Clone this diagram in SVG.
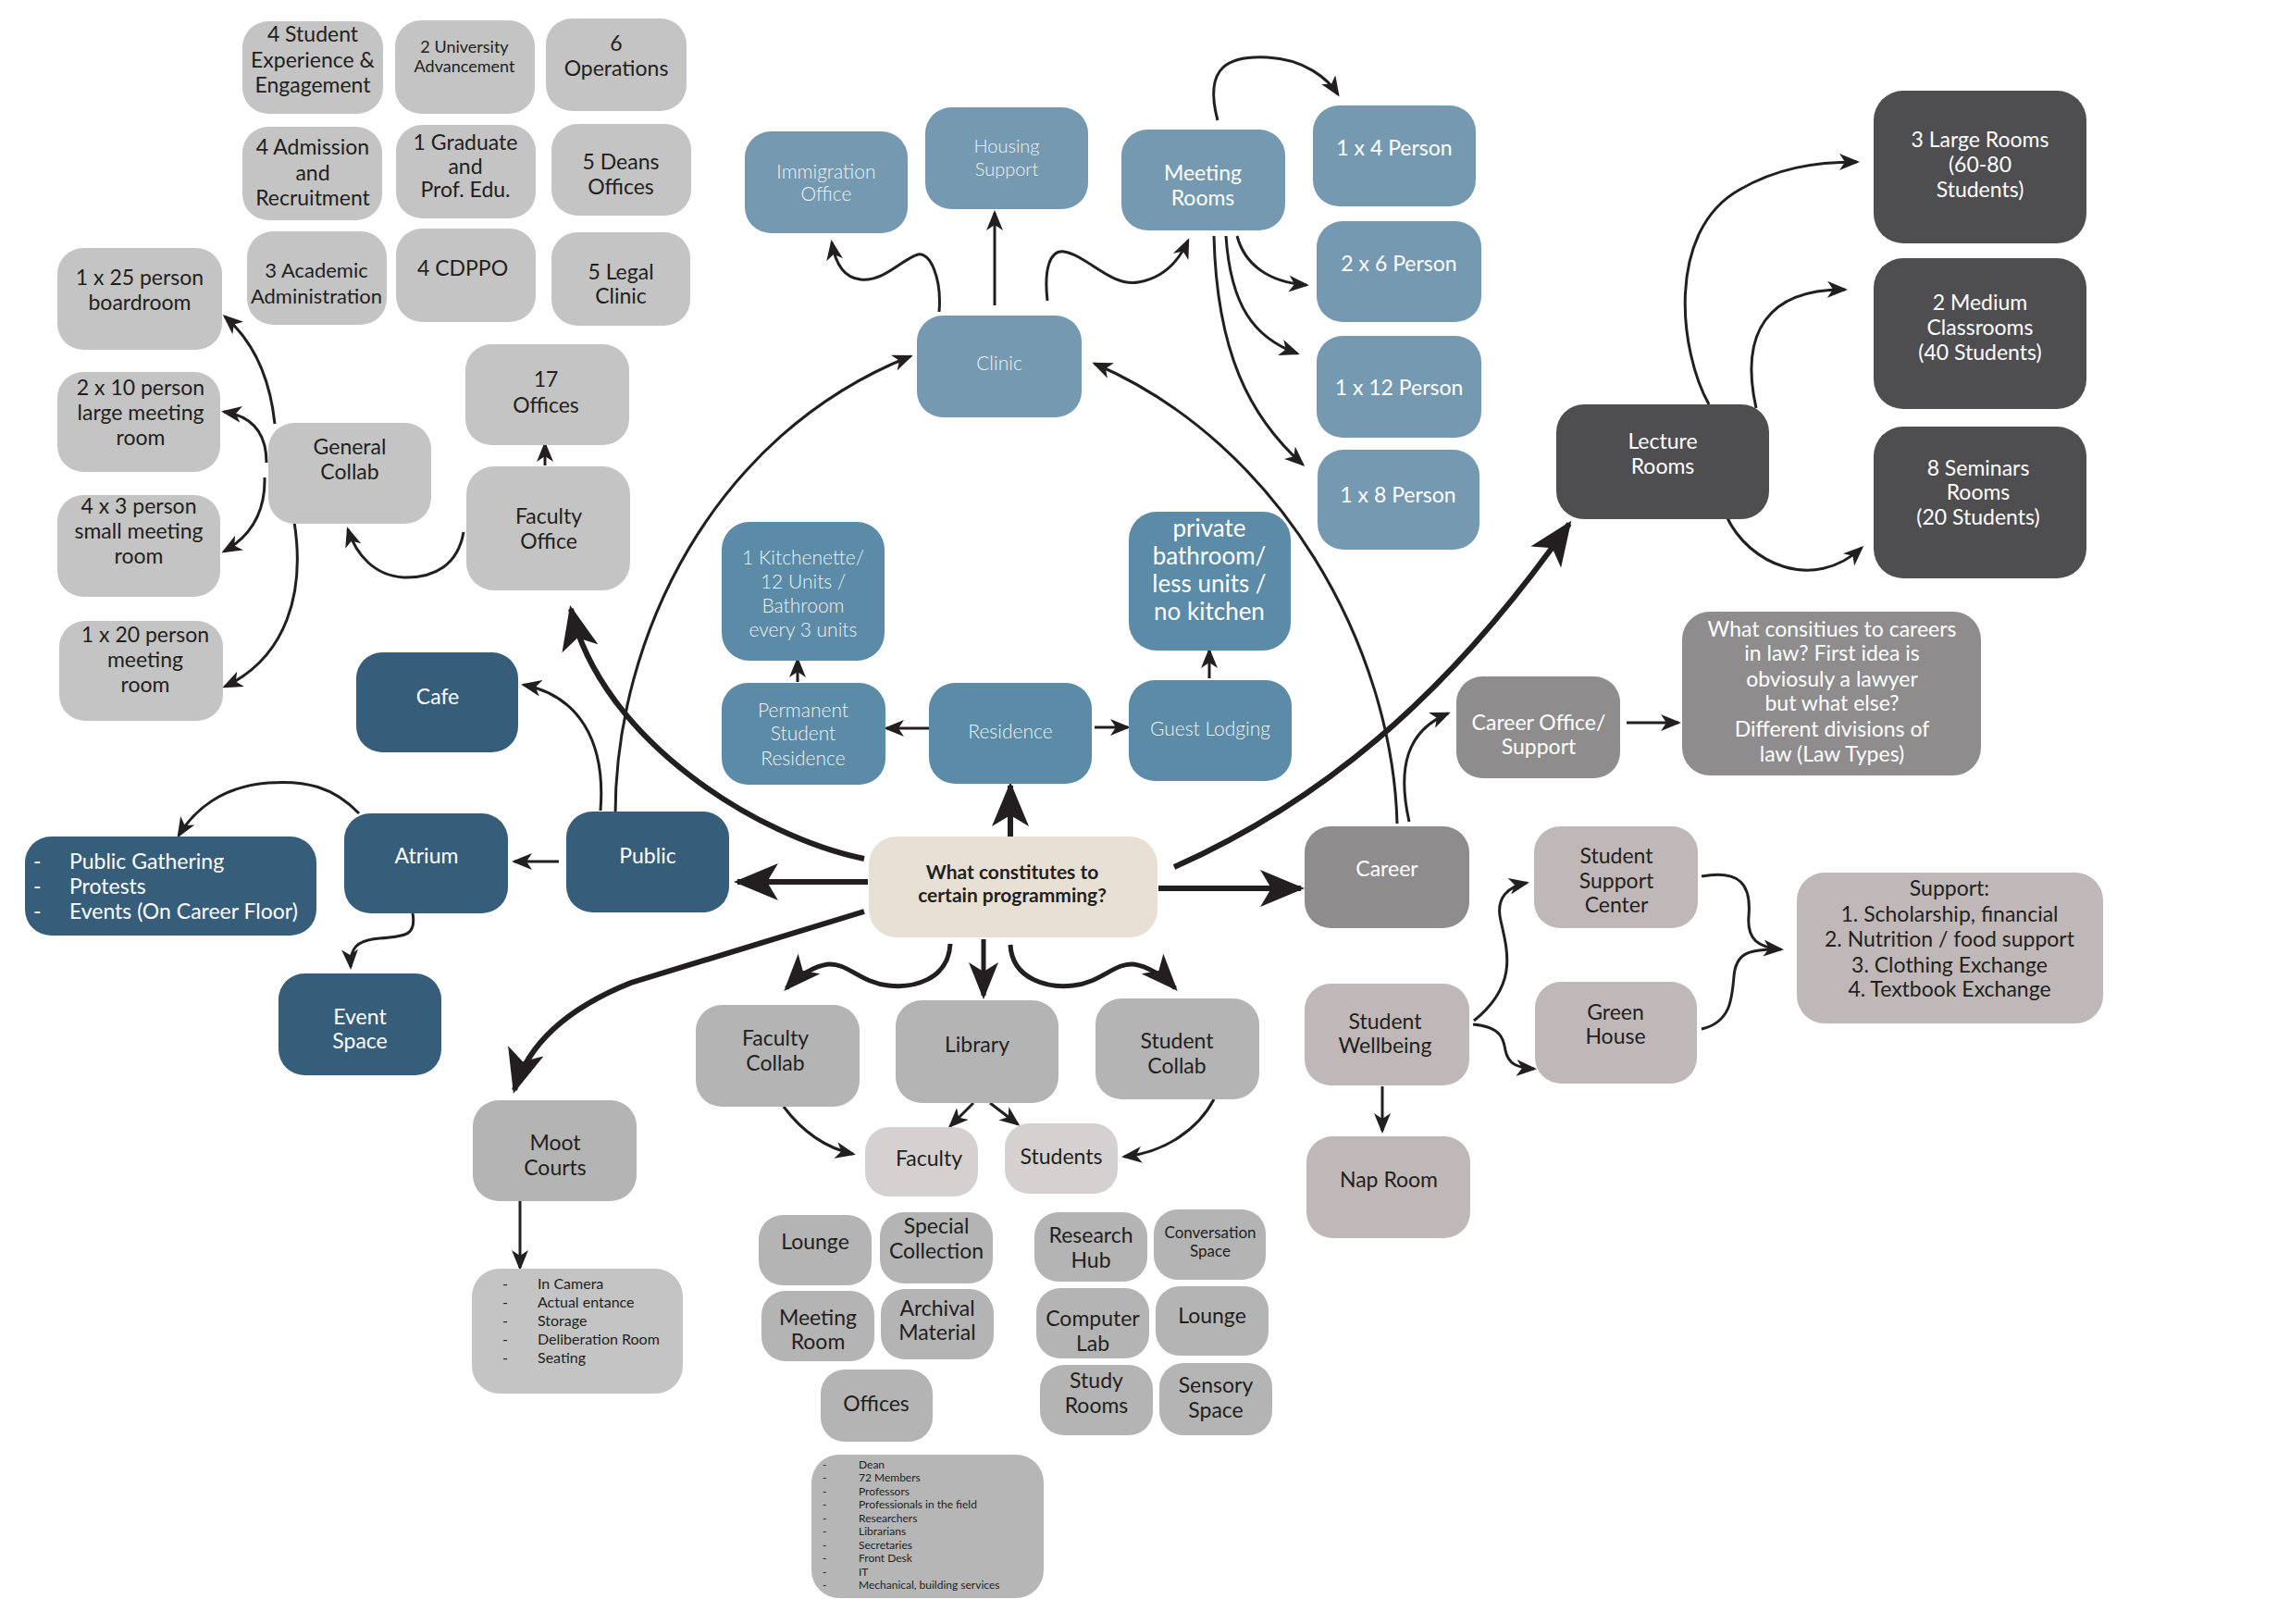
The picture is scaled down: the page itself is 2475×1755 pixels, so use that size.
<svg xmlns="http://www.w3.org/2000/svg" width="2475" height="1755" viewBox="0 0 2475 1755">
<style>
text{font-family:Lato,"Liberation Sans",sans-serif;text-anchor:middle}
.g1{fill:#c4c4c4}.db{fill:#365e7a}.mb{fill:#7599b0}.rb{fill:#5b8ba6}.bg{fill:#e8e0d5}
.dk{fill:#4e4d50}.cr{fill:#8f8c8e}.wb{fill:#c0b8b8}.lg{fill:#b4b4b4}.lt{fill:#d6d1d1}.sl{fill:#b6b6b6}
.t{fill:#231f20;font-size:23px}
.w{fill:#ffffff;font-size:23px}
.wl{fill:#eef3f6;font-size:21px;font-weight:300}
.st{text-anchor:start}
.c{fill:none;stroke:#231f20;stroke-width:3}
.ck{fill:none;stroke:#231f20;stroke-width:6}
.cm{fill:none;stroke:#231f20;stroke-width:5}
.as{marker-end:url(#a)}.am{marker-end:url(#m)}.al{marker-end:url(#L)}
</style>
<defs>
<marker id="a" markerUnits="userSpaceOnUse" viewBox="0 0 22 18" markerWidth="22" markerHeight="18" refX="19" refY="9" orient="auto"><path d="M0,0 L22,9 L0,18 L6,9 z" fill="#231f20"/></marker>
<marker id="m" markerUnits="userSpaceOnUse" viewBox="0 0 40 32" markerWidth="40" markerHeight="32" refX="36" refY="16" orient="auto"><path d="M0,0 L40,16 L0,32 L10,16 z" fill="#231f20"/></marker>
<marker id="L" markerUnits="userSpaceOnUse" viewBox="0 0 48 40" markerWidth="48" markerHeight="40" refX="44" refY="20" orient="auto"><path d="M0,0 L48,20 L0,40 L12,20 z" fill="#231f20"/></marker>
</defs>
<rect width="2475" height="1755" fill="#ffffff"/>

<g id="connectors">
<path class="ck al" d="M938,953 L797,953"/>
<path class="ck al" d="M1252,960 L1406,960"/>
<path class="ck al" d="M1092,904 L1092,849"/>
<path class="cm am" d="M1063,1015 L1063,1076"/>
<path class="cm am" d="M1027,1020 C1025,1060 985,1068 960,1065 C930,1062 915,1040 895,1042 C880,1044 862,1055 850,1068"/>
<path class="cm am" d="M1092,1021 C1094,1060 1135,1068 1160,1065 C1190,1062 1205,1040 1225,1042 C1240,1044 1258,1055 1270,1068"/>
<path class="ck al" d="M934,928 C820,905 650,800 617,658"/>
<path class="c as" d="M665,880 C665,690 770,470 984,385"/>
<path class="c as" d="M649,876 C655,800 625,752 566,740"/>
<path class="c as" d="M604,931 L556,931"/>
<path class="c as" d="M388,879 C360,850 330,843 290,846 C240,850 210,875 193,903"/>
<path class="c as" d="M446,987 C450,1010 440,1012 410,1014 C385,1016 378,1025 379,1045"/>
<path class="ck al" d="M934,985 L682,1062 C612,1090 570,1130 556,1178"/>
<path class="c as" d="M562,1298 L562,1370"/>
<path class="c as" d="M501,575 C495,610 470,625 436,624 C405,622 385,600 376,572"/>
<path class="c as" d="M589,503 L589,480"/>
<path class="c as" d="M297,458 C292,410 275,370 243,342"/>
<path class="c as" d="M288,500 C288,470 275,450 242,445"/>
<path class="c as" d="M286,516 C287,555 270,580 242,596"/>
<path class="c as" d="M318,564 C330,640 310,710 243,742"/>
<path class="c as" d="M1015,337 C1018,300 1005,272 992,275 C975,280 955,305 930,302 C910,300 902,280 899,262"/>
<path class="c as" d="M1075,330 L1075,230"/>
<path class="c as" d="M1132,325 C1128,290 1135,270 1150,272 C1175,276 1200,310 1230,305 C1260,300 1275,280 1284,260"/>
<path class="c as" d="M1316,130 C1300,70 1330,60 1370,62 C1410,64 1435,85 1446,102"/>
<path class="c as" d="M1337,255 C1345,285 1370,305 1412,308"/>
<path class="c as" d="M1325,255 C1330,330 1355,365 1402,382"/>
<path class="c as" d="M1312,255 C1315,380 1350,450 1408,502"/>
<path class="c as" d="M862,737 L862,713"/>
<path class="c as" d="M1004,787 L958,787"/>
<path class="c as" d="M1183,786 L1219,786"/>
<path class="c as" d="M1307,733 L1307,703"/>
<path class="c as" d="M1510,890 C1505,700 1385,480 1183,393"/>
<path class="ck al" d="M1269,937 C1420,870 1560,760 1696,566"/>
<path class="c as" d="M1847,437 C1815,380 1800,250 1880,205 C1920,182 1960,175 2007,175"/>
<path class="c as" d="M1898,441 C1880,360 1910,312 1994,313"/>
<path class="c as" d="M1866,558 C1890,610 1960,640 2012,592"/>
<path class="c as" d="M1523,888 C1510,830 1520,790 1565,771"/>
<path class="c as" d="M1758,781 L1814,781"/>
<path class="c as" d="M1593,1103 C1640,1065 1630,1030 1622,995 C1616,970 1630,958 1650,954"/>
<path class="c as" d="M1592,1107 C1625,1110 1625,1125 1627,1135 C1630,1150 1640,1154 1658,1155"/>
<path class="c as" d="M1494,1174 L1494,1222"/>
<path class="c as" d="M1839,947 C1880,940 1893,955 1890,990 C1888,1015 1900,1024 1925,1026"/>
<path class="c" d="M1839,1112 C1870,1105 1872,1080 1874,1055 C1876,1030 1890,1026 1920,1026"/>
<path class="c as" d="M847,1196 C865,1220 890,1240 922,1247"/>
<path class="c as" d="M1052,1192 L1027,1217"/>
<path class="c as" d="M1070,1192 L1100,1215"/>
<path class="c as" d="M1312,1188 C1295,1220 1260,1245 1215,1250"/>
</g>

<g id="n-student-exp"><rect class="g1" x="262" y="23" width="152" height="100" rx="28"/><text class="t" x="338"><tspan x="338" y="45">4 Student</tspan><tspan x="338" y="73">Experience &amp;</tspan><tspan x="338" y="100">Engagement</tspan></text></g>
<g id="n-univ-adv"><rect class="g1" x="427" y="22" width="151" height="101" rx="28"/><text class="t" style="font-size:18px"><tspan x="502" y="57">2 University</tspan><tspan x="502" y="78">Advancement</tspan></text></g>
<g id="n-operations"><rect class="g1" x="590" y="20" width="152" height="100" rx="28"/><text class="t"><tspan x="666" y="55">6</tspan><tspan x="666" y="82">Operations</tspan></text></g>
<g id="n-admission"><rect class="g1" x="262" y="137" width="151" height="101" rx="28"/><text class="t"><tspan x="338" y="167">4 Admission</tspan><tspan x="338" y="195">and</tspan><tspan x="338" y="222">Recruitment</tspan></text></g>
<g id="n-graduate"><rect class="g1" x="428" y="135" width="151" height="101" rx="28"/><text class="t"><tspan x="503" y="162">1 Graduate</tspan><tspan x="503" y="188">and</tspan><tspan x="503" y="213">Prof. Edu.</tspan></text></g>
<g id="n-deans"><rect class="g1" x="596" y="134" width="151" height="99" rx="28"/><text class="t"><tspan x="671" y="183">5 Deans</tspan><tspan x="671" y="210">Offices</tspan></text></g>
<g id="n-academic"><rect class="g1" x="267" y="250" width="151" height="101" rx="28"/><text class="t" style="font-size:22px"><tspan x="342" y="300">3 Academic</tspan><tspan x="342" y="328">Administration</tspan></text></g>
<g id="n-cdppo"><rect class="g1" x="428" y="247" width="151" height="101" rx="28"/><text class="t" x="500" y="298">4 CDPPO</text></g>
<g id="n-legal"><rect class="g1" x="596" y="251" width="150" height="101" rx="28"/><text class="t"><tspan x="671" y="302">5 Legal</tspan><tspan x="671" y="328">Clinic</tspan></text></g>

<g id="n-boardroom"><rect class="g1" x="62" y="268" width="178" height="110" rx="28"/><text class="t"><tspan x="151" y="308">1 x 25 person</tspan><tspan x="151" y="335">boardroom</tspan></text></g>
<g id="n-large-meeting"><rect class="g1" x="62" y="402" width="176" height="108" rx="28"/><text class="t"><tspan x="152" y="427">2 x 10 person</tspan><tspan x="152" y="454">large meeting</tspan><tspan x="152" y="481">room</tspan></text></g>
<g id="n-small-meeting"><rect class="g1" x="62" y="535" width="176" height="110" rx="28"/><text class="t"><tspan x="150" y="555">4 x 3 person</tspan><tspan x="150" y="582">small meeting</tspan><tspan x="150" y="609">room</tspan></text></g>
<g id="n-20-meeting"><rect class="g1" x="64" y="671" width="177" height="108" rx="28"/><text class="t"><tspan x="157" y="694">1 x 20 person</tspan><tspan x="157" y="721">meeting</tspan><tspan x="157" y="748">room</tspan></text></g>
<g id="n-general-collab"><rect class="g1" x="290" y="457" width="176" height="109" rx="28"/><text class="t"><tspan x="378" y="491">General</tspan><tspan x="378" y="518">Collab</tspan></text></g>
<g id="n-17-offices"><rect class="g1" x="503" y="372" width="177" height="109" rx="28"/><text class="t"><tspan x="590" y="418">17</tspan><tspan x="590" y="446">Offices</tspan></text></g>
<g id="n-faculty-office"><rect class="g1" x="504" y="504" width="177" height="134" rx="30"/><text class="t"><tspan x="593" y="566">Faculty</tspan><tspan x="593" y="593">Office</tspan></text></g>

<g id="n-cafe"><rect class="db" x="385" y="705" width="175" height="108" rx="28"/><text class="w" x="473" y="761">Cafe</text></g>
<g id="n-public"><rect class="db" x="612" y="877" width="176" height="109" rx="28"/><text class="w" x="700" y="933">Public</text></g>
<g id="n-atrium"><rect class="db" x="372" y="879" width="177" height="108" rx="28"/><text class="w" x="461" y="933">Atrium</text></g>
<g id="n-public-gathering"><rect class="db" x="27" y="904" width="315" height="107" rx="28"/><text class="w st"><tspan x="36" y="939">-</tspan><tspan x="75" y="939">Public Gathering</tspan><tspan x="36" y="966">-</tspan><tspan x="75" y="966">Protests</tspan><tspan x="36" y="993">-</tspan><tspan x="75" y="993">Events (On Career Floor)</tspan></text></g>
<g id="n-event-space"><rect class="db" x="301" y="1052" width="176" height="110" rx="28"/><text class="w"><tspan x="389" y="1107">Event</tspan><tspan x="389" y="1133">Space</tspan></text></g>

<g id="n-immigration"><rect class="mb" x="805" y="142" width="176" height="110" rx="28"/><text class="wl"><tspan x="893" y="193">Immigration</tspan><tspan x="893" y="217">Office</tspan></text></g>
<g id="n-housing"><rect class="mb" x="1000" y="116" width="176" height="110" rx="28"/><text class="wl" style="font-size:20px"><tspan x="1088" y="165">Housing</tspan><tspan x="1088" y="190">Support</tspan></text></g>
<g id="n-meeting-rooms"><rect class="mb" x="1212" y="140" width="177" height="109" rx="28"/><text class="w"><tspan x="1300" y="195">Meeting</tspan><tspan x="1300" y="222">Rooms</tspan></text></g>
<g id="n-clinic"><rect class="mb" x="991" y="341" width="178" height="110" rx="28"/><text class="wl" x="1080" y="400">Clinic</text></g>
<g id="n-1x4"><rect class="mb" x="1419" y="114" width="176" height="109" rx="28"/><text class="w" x="1507" y="168">1 x 4 Person</text></g>
<g id="n-2x6"><rect class="mb" x="1423" y="239" width="178" height="109" rx="28"/><text class="w" x="1512" y="293">2 x 6 Person</text></g>
<g id="n-1x12"><rect class="mb" x="1423" y="363" width="178" height="110" rx="28"/><text class="w" x="1512" y="427">1 x 12 Person</text></g>
<g id="n-1x8"><rect class="mb" x="1424" y="486" width="175" height="108" rx="28"/><text class="w" x="1511" y="543">1 x 8 Person</text></g>

<g id="n-kitchenette"><rect class="rb" x="780" y="564" width="176" height="150" rx="30"/><text class="wl"><tspan x="868" y="610">1 Kitchenette/</tspan><tspan x="868" y="636">12  Units /</tspan><tspan x="868" y="662">Bathroom</tspan><tspan x="868" y="688">every 3 units</tspan></text></g>
<g id="n-permanent"><rect class="rb" x="780" y="738" width="177" height="110" rx="28"/><text class="wl"><tspan x="868" y="775">Permanent</tspan><tspan x="868" y="800">Student</tspan><tspan x="868" y="827">Residence</tspan></text></g>
<g id="n-residence"><rect class="rb" x="1004" y="738" width="176" height="109" rx="28"/><text class="wl" x="1092" y="798">Residence</text></g>
<g id="n-guest"><rect class="rb" x="1220" y="735" width="176" height="109" rx="28"/><text class="wl" x="1308" y="795">Guest Lodging</text></g>
<g id="n-private"><rect class="rb" x="1220" y="553" width="175" height="150" rx="30"/><text class="w" style="font-size:26px"><tspan x="1307" y="580">private</tspan><tspan x="1307" y="610">bathroom/</tspan><tspan x="1307" y="640">less units /</tspan><tspan x="1307" y="670">no kitchen</tspan></text></g>

<g id="n-center"><rect class="bg" x="939" y="904" width="312" height="109" rx="30"/><text class="t" style="font-size:21px;font-weight:bold"><tspan x="1094" y="950">What constitutes to</tspan><tspan x="1094" y="975">certain programming?</tspan></text></g>

<g id="n-lecture"><rect class="dk" x="1682" y="437" width="230" height="124" rx="30"/><text class="w"><tspan x="1797" y="485">Lecture</tspan><tspan x="1797" y="512">Rooms</tspan></text></g>
<g id="n-large-rooms"><rect class="dk" x="2025" y="98" width="230" height="165" rx="32"/><text class="w"><tspan x="2140" y="159">3 Large Rooms</tspan><tspan x="2140" y="186">(60-80</tspan><tspan x="2140" y="213">Students)</tspan></text></g>
<g id="n-medium"><rect class="dk" x="2025" y="279" width="230" height="163" rx="32"/><text class="w"><tspan x="2140" y="335">2 Medium</tspan><tspan x="2140" y="362">Classrooms</tspan><tspan x="2140" y="389">(40 Students)</tspan></text></g>
<g id="n-seminars"><rect class="dk" x="2025" y="461" width="230" height="164" rx="32"/><text class="w"><tspan x="2138" y="514">8 Seminars</tspan><tspan x="2138" y="540">Rooms</tspan><tspan x="2138" y="567">(20 Students)</tspan></text></g>

<g id="n-career"><rect class="cr" x="1410" y="893" width="178" height="110" rx="28"/><text class="w" x="1499" y="947">Career</text></g>
<g id="n-career-office"><rect class="cr" x="1574" y="731" width="177" height="110" rx="28"/><text class="w"><tspan x="1663" y="789">Career Office/</tspan><tspan x="1663" y="815">Support</tspan></text></g>
<g id="n-careers-law"><rect class="cr" x="1818" y="661" width="323" height="177" rx="30"/><text class="w"><tspan x="1980" y="688">What consitiues to careers</tspan><tspan x="1980" y="714">in law? First idea is</tspan><tspan x="1980" y="742">obviosuly a lawyer</tspan><tspan x="1980" y="768">but what else?</tspan><tspan x="1980" y="796">Different divisions of</tspan><tspan x="1980" y="823">law (Law Types)</tspan></text></g>

<g id="n-support-center"><rect class="wb" x="1658" y="893" width="177" height="110" rx="28"/><text class="t"><tspan x="1747" y="933">Student</tspan><tspan x="1747" y="960">Support</tspan><tspan x="1747" y="986">Center</tspan></text></g>
<g id="n-green-house"><rect class="wb" x="1659" y="1061" width="175" height="110" rx="28"/><text class="t"><tspan x="1746" y="1102">Green</tspan><tspan x="1746" y="1128">House</tspan></text></g>
<g id="n-wellbeing"><rect class="wb" x="1410" y="1063" width="178" height="110" rx="28"/><text class="t"><tspan x="1497" y="1112">Student</tspan><tspan x="1497" y="1138">Wellbeing</tspan></text></g>
<g id="n-nap"><rect class="wb" x="1412" y="1228" width="177" height="110" rx="28"/><text class="t" x="1501" y="1283">Nap Room</text></g>
<g id="n-support"><rect class="wb" x="1942" y="943" width="331" height="163" rx="30"/><text class="t"><tspan x="2107" y="968">Support:</tspan><tspan x="2107" y="996">1.  Scholarship, financial</tspan><tspan x="2107" y="1023">2.  Nutrition / food support</tspan><tspan x="2107" y="1051">3.  Clothing Exchange</tspan><tspan x="2107" y="1077">4.  Textbook Exchange</tspan></text></g>

<g id="n-faculty-collab"><rect class="lg" x="752" y="1086" width="177" height="110" rx="28"/><text class="t"><tspan x="838" y="1130">Faculty</tspan><tspan x="838" y="1157">Collab</tspan></text></g>
<g id="n-library"><rect class="lg" x="968" y="1081" width="176" height="111" rx="28"/><text class="t" x="1056" y="1137">Library</text></g>
<g id="n-student-collab"><rect class="lg" x="1184" y="1079" width="177" height="109" rx="28"/><text class="t"><tspan x="1272" y="1133">Student</tspan><tspan x="1272" y="1160">Collab</tspan></text></g>
<g id="n-faculty"><rect class="lt" x="935" y="1218" width="122" height="75" rx="26"/><text class="t" x="1004" y="1260">Faculty</text></g>
<g id="n-students"><rect class="lt" x="1086" y="1214" width="122" height="76" rx="26"/><text class="t" x="1147" y="1258">Students</text></g>
<g id="n-moot"><rect class="lg" x="511" y="1189" width="177" height="109" rx="28"/><text class="t"><tspan x="600" y="1243">Moot</tspan><tspan x="600" y="1270">Courts</tspan></text></g>
<g id="n-moot-list"><rect class="g1" x="510" y="1371" width="228" height="135" rx="30"/><text class="t st" style="font-size:16px"><tspan x="543" y="1393">-</tspan><tspan x="581" y="1393">In Camera</tspan><tspan x="543" y="1413">-</tspan><tspan x="581" y="1413">Actual entance</tspan><tspan x="543" y="1433">-</tspan><tspan x="581" y="1433">Storage</tspan><tspan x="543" y="1453">-</tspan><tspan x="581" y="1453">Deliberation Room</tspan><tspan x="543" y="1473">-</tspan><tspan x="581" y="1473">Seating</tspan></text></g>

<g id="n-lounge1"><rect class="lg" x="820" y="1313" width="122" height="76" rx="26"/><text class="t" x="881" y="1350">Lounge</text></g>
<g id="n-special"><rect class="lg" x="951" y="1310" width="122" height="77" rx="26"/><text class="t"><tspan x="1012" y="1333">Special</tspan><tspan x="1012" y="1360">Collection</tspan></text></g>
<g id="n-meeting-room"><rect class="lg" x="823" y="1395" width="122" height="76" rx="26"/><text class="t"><tspan x="884" y="1432">Meeting</tspan><tspan x="884" y="1458">Room</tspan></text></g>
<g id="n-archival"><rect class="lg" x="952" y="1393" width="122" height="76" rx="26"/><text class="t"><tspan x="1013" y="1422">Archival</tspan><tspan x="1013" y="1448">Material</tspan></text></g>
<g id="n-offices"><rect class="lg" x="887" y="1480" width="121" height="78" rx="26"/><text class="t" x="947" y="1525">Offices</text></g>
<g id="n-research"><rect class="lg" x="1118" y="1310" width="122" height="75" rx="26"/><text class="t"><tspan x="1179" y="1343">Research</tspan><tspan x="1179" y="1370">Hub</tspan></text></g>
<g id="n-conversation"><rect class="lg" x="1247" y="1307" width="121" height="76" rx="26"/><text class="t" style="font-size:17px"><tspan x="1308" y="1338">Conversation</tspan><tspan x="1308" y="1358">Space</tspan></text></g>
<g id="n-computer"><rect class="lg" x="1120" y="1392" width="122" height="76" rx="26"/><text class="t"><tspan x="1181" y="1433">Computer</tspan><tspan x="1181" y="1460">Lab</tspan></text></g>
<g id="n-lounge2"><rect class="lg" x="1249" y="1390" width="122" height="75" rx="26"/><text class="t" x="1310" y="1430">Lounge</text></g>
<g id="n-study"><rect class="lg" x="1124" y="1475" width="122" height="76" rx="26"/><text class="t"><tspan x="1185" y="1500">Study</tspan><tspan x="1185" y="1527">Rooms</tspan></text></g>
<g id="n-sensory"><rect class="lg" x="1253" y="1473" width="122" height="78" rx="26"/><text class="t"><tspan x="1314" y="1505">Sensory</tspan><tspan x="1314" y="1532">Space</tspan></text></g>

<g id="n-staff-list"><rect class="sl" x="877" y="1572" width="251" height="155" rx="30"/><text class="t st" style="font-size:12px"><tspan x="889" y="1587">-</tspan><tspan x="928" y="1587">Dean</tspan><tspan x="889" y="1601">-</tspan><tspan x="928" y="1601">72 Members</tspan><tspan x="889" y="1616">-</tspan><tspan x="928" y="1616">Professors</tspan><tspan x="889" y="1630">-</tspan><tspan x="928" y="1630">Professionals in the field</tspan><tspan x="889" y="1645">-</tspan><tspan x="928" y="1645">Researchers</tspan><tspan x="889" y="1659">-</tspan><tspan x="928" y="1659">Librarians</tspan><tspan x="889" y="1674">-</tspan><tspan x="928" y="1674">Secretaries</tspan><tspan x="889" y="1688">-</tspan><tspan x="928" y="1688">Front Desk</tspan><tspan x="889" y="1703">-</tspan><tspan x="928" y="1703">IT</tspan><tspan x="889" y="1717">-</tspan><tspan x="928" y="1717">Mechanical, building services</tspan></text></g>
</svg>
